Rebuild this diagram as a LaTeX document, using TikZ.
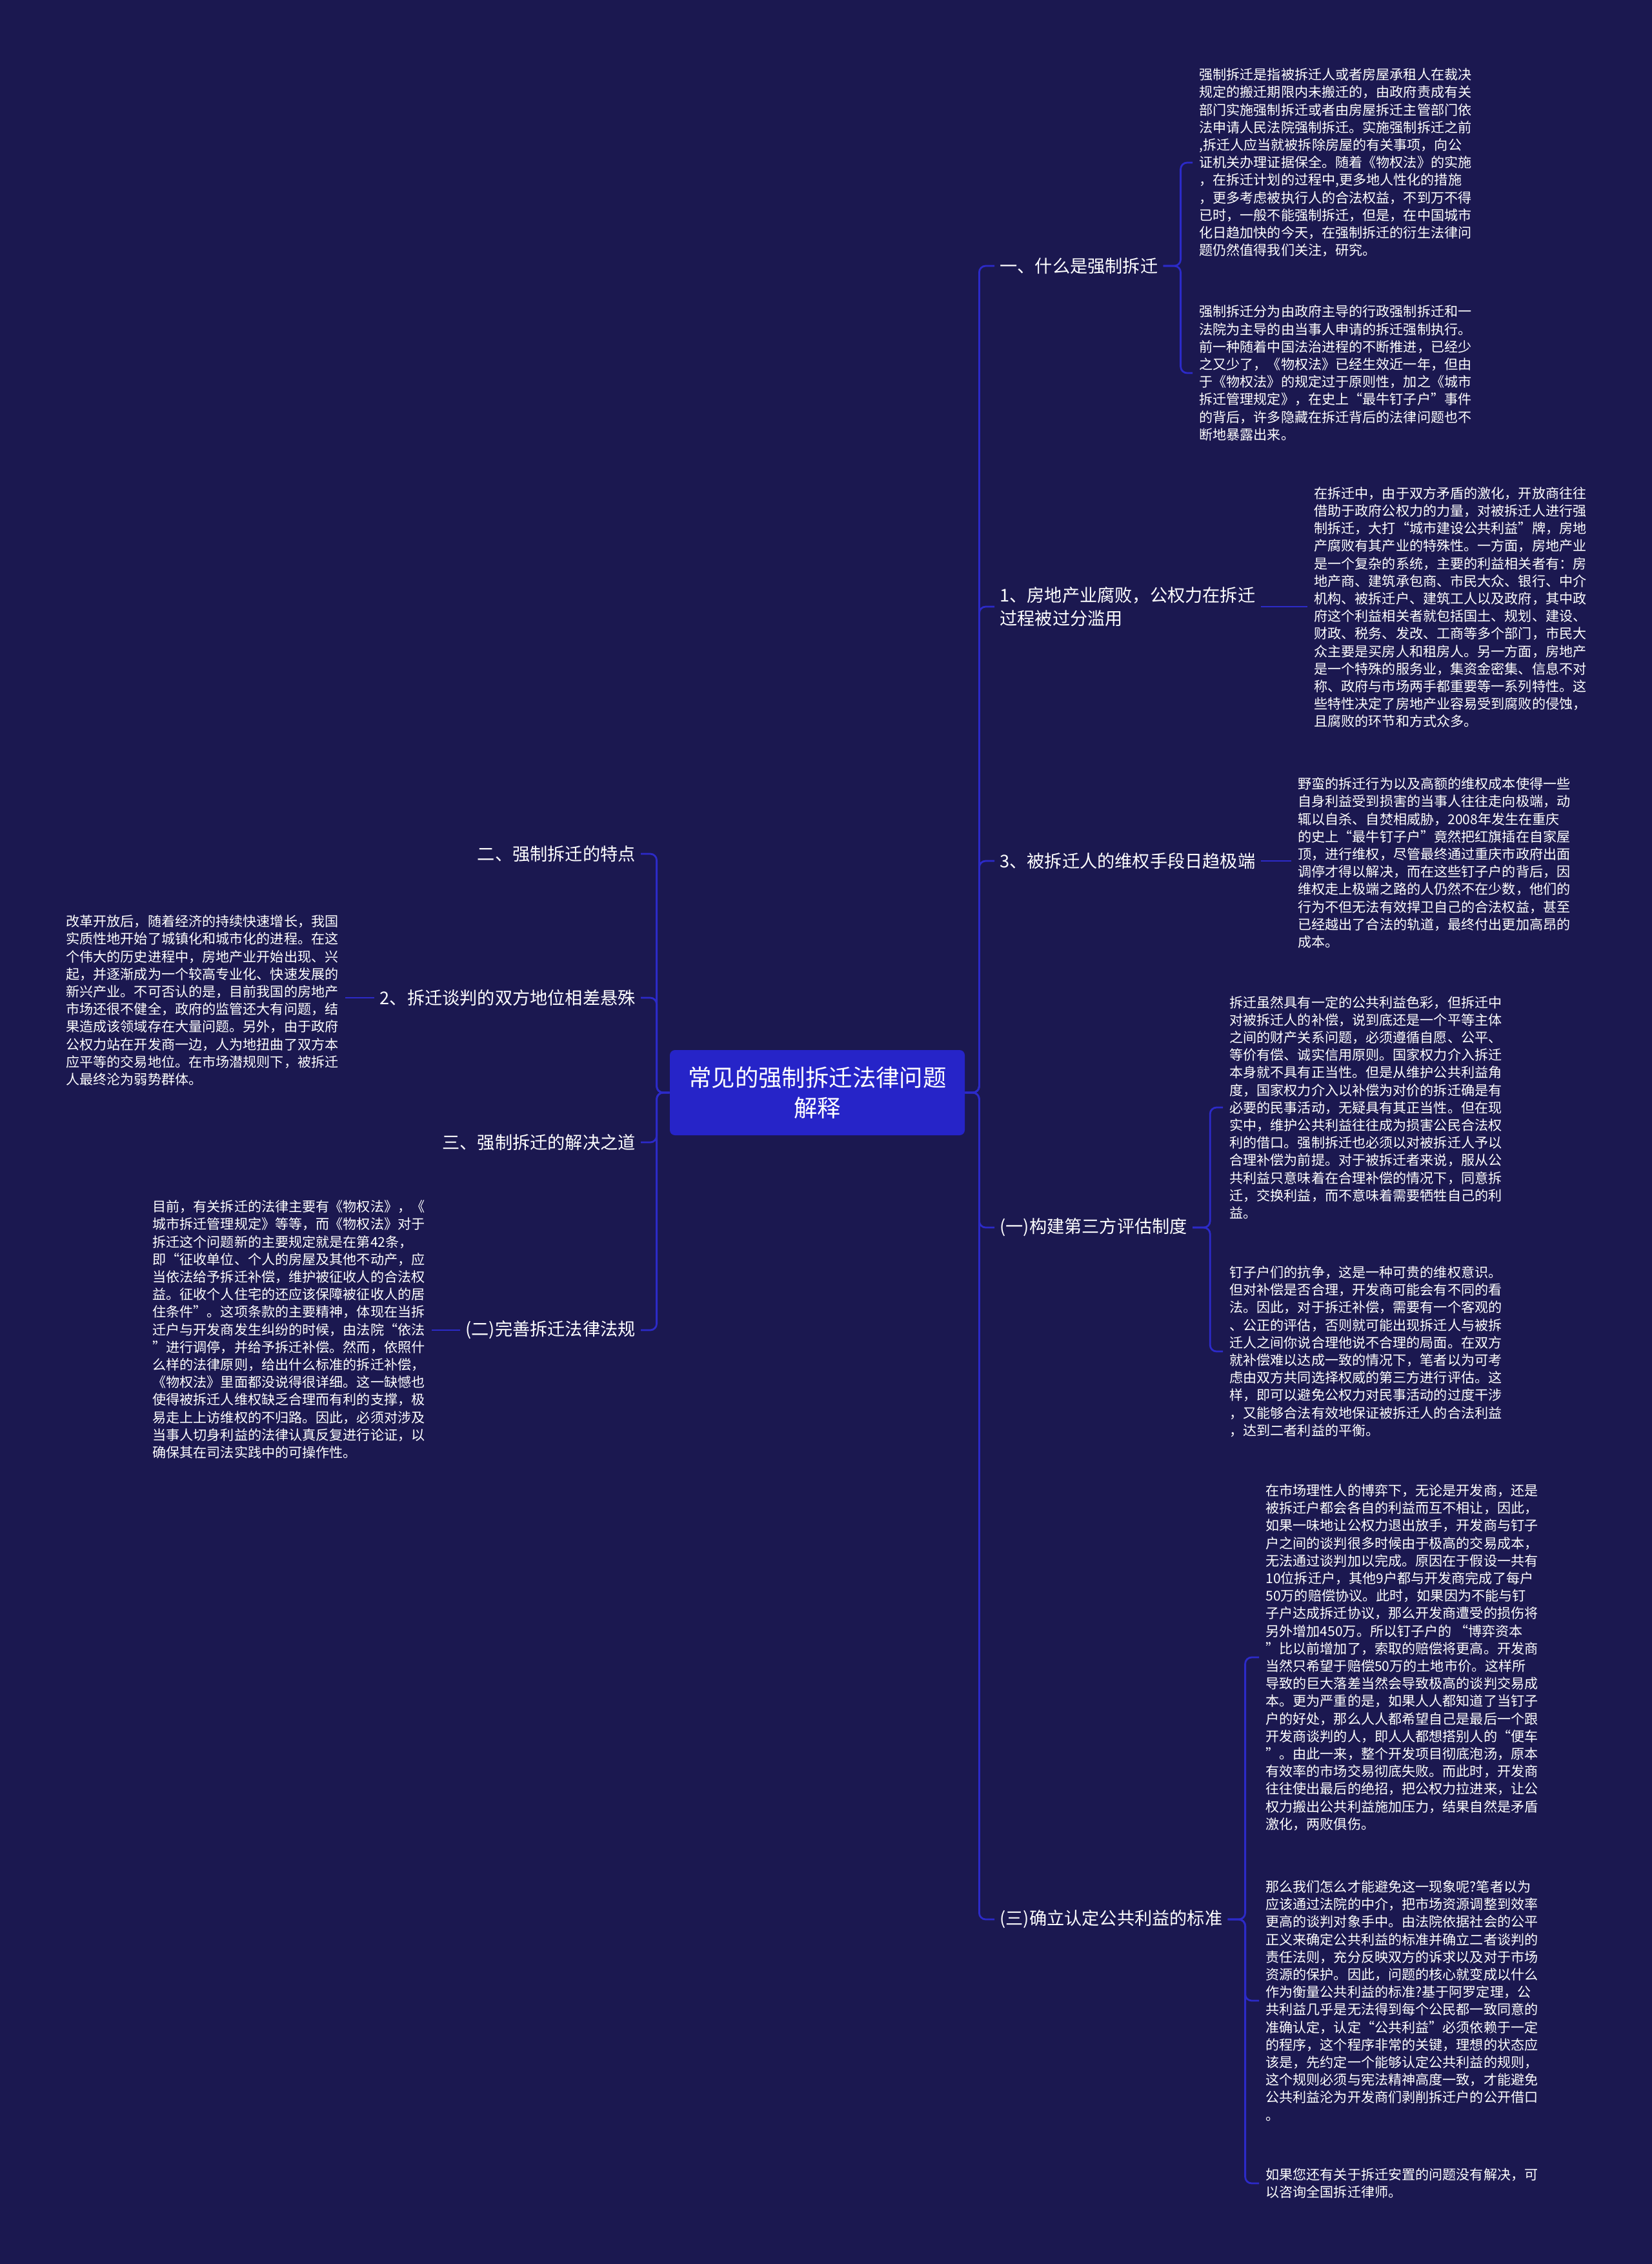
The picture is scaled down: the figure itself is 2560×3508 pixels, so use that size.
\documentclass[tikz,border=0pt]{standalone}
\usepackage{fontspec}
\setmainfont{Noto Sans CJK SC}
\definecolor{bgnavy}{RGB}{27,24,80}
\definecolor{linkblue}{RGB}{44,42,200}
\definecolor{rootblue}{RGB}{38,36,200}

\begin{document}
\begin{tikzpicture}[x=0.5pt, y=-0.5pt,
	root/.style={fill=rootblue, rounded corners=4pt, text=white, align=center, minimum width=228.5pt, minimum height=66pt, font=\fontsize{18.2pt}{23.5pt}\selectfont},
	topic/.style={text=white, inner xsep=4pt, inner ysep=2pt, align=left, font=\fontsize{13.6pt}{18pt}\selectfont},
	leaf/.style={text=white, inner xsep=5pt, inner ysep=0pt, anchor=west, align=left, font=\fontsize{10.55pt}{13.6pt}\selectfont},
	link/.style={draw=linkblue, line width=1.4pt, rounded corners=5pt}]
	\fill[bgnavy] (0,0) rectangle (2560,3508);
	\useasboundingbox (0,0) rectangle (2560,3508);
	
	\node[root] (root) at (1266.5,1693) {常见的强制拆迁法律问题\\解释};
	
	% right side
	\node[topic, anchor=west] (r1) at (1541,412) {一、什么是强制拆迁};
	\node[topic, anchor=west] (r2) at (1541,940) {1、房地产业腐败，公权力在拆迁\\过程被过分滥用};
	\node[topic, anchor=west] (r3) at (1541,1334) {3、被拆迁人的维权手段日趋极端};
	\node[topic, anchor=west] (r4) at (1541,1902) {(一)构建第三方评估制度};
	\node[topic, anchor=west] (r5) at (1541,2974) {(三)确立认定公共利益的标准};
	
	\node[leaf] (c1a) at (1848,252) {强制拆迁是指被拆迁人或者房屋承租人在裁决\\
		规定的搬迁期限内未搬迁的，由政府责成有关\\
		部门实施强制拆迁或者由房屋拆迁主管部门依\\
		法申请人民法院强制拆迁。实施强制拆迁之前\\
		,拆迁人应当就被拆除房屋的有关事项，向公\\
		证机关办理证据保全。随着《物权法》的实施\\
		，在拆迁计划的过程中,更多地人性化的措施\\
		，更多考虑被执行人的合法权益，不到万不得\\
		已时，一般不能强制拆迁，但是，在中国城市\\
		化日趋加快的今天，在强制拆迁的衍生法律问\\
		题仍然值得我们关注，研究。};
	\node[leaf] (c1b) at (1848,578) {强制拆迁分为由政府主导的行政强制拆迁和一\\
		法院为主导的由当事人申请的拆迁强制执行。\\
		前一种随着中国法治进程的不断推进，已经少\\
		之又少了，《物权法》已经生效近一年，但由\\
		于《物权法》的规定过于原则性，加之《城市\\
		拆迁管理规定》，在史上“最牛钉子户”事件\\
		的背后，许多隐藏在拆迁背后的法律问题也不\\
		断地暴露出来。};
	\node[leaf] (c2) at (2026,941) {在拆迁中，由于双方矛盾的激化，开放商往往\\
		借助于政府公权力的力量，对被拆迁人进行强\\
		制拆迁，大打“城市建设公共利益”牌，房地\\
		产腐败有其产业的特殊性。一方面，房地产业\\
		是一个复杂的系统，主要的利益相关者有：房\\
		地产商、建筑承包商、市民大众、银行、中介\\
		机构、被拆迁户、建筑工人以及政府，其中政\\
		府这个利益相关者就包括国土、规划、建设、\\
		财政、税务、发改、工商等多个部门，市民大\\
		众主要是买房人和租房人。另一方面，房地产\\
		是一个特殊的服务业，集资金密集、信息不对\\
		称、政府与市场两手都重要等一系列特性。这\\
		些特性决定了房地产业容易受到腐败的侵蚀，\\
		且腐败的环节和方式众多。};
	\node[leaf] (c3) at (2001,1337) {野蛮的拆迁行为以及高额的维权成本使得一些\\
		自身利益受到损害的当事人往往走向极端，动\\
		辄以自杀、自焚相威胁，2008年发生在重庆\\
		的史上“最牛钉子户”竟然把红旗插在自家屋\\
		顶，进行维权，尽管最终通过重庆市政府出面\\
		调停才得以解决，而在这些钉子户的背后，因\\
		维权走上极端之路的人仍然不在少数，他们的\\
		行为不但无法有效捍卫自己的合法权益，甚至\\
		已经越出了合法的轨道，最终付出更加高昂的\\
		成本。};
	\node[leaf] (c4a) at (1895,1716) {拆迁虽然具有一定的公共利益色彩，但拆迁中\\
		对被拆迁人的补偿，说到底还是一个平等主体\\
		之间的财产关系问题，必须遵循自愿、公平、\\
		等价有偿、诚实信用原则。国家权力介入拆迁\\
		本身就不具有正当性。但是从维护公共利益角\\
		度，国家权力介入以补偿为对价的拆迁确是有\\
		必要的民事活动，无疑具有其正当性。但在现\\
		实中，维护公共利益往往成为损害公民合法权\\
		利的借口。强制拆迁也必须以对被拆迁人予以\\
		合理补偿为前提。对于被拆迁者来说，服从公\\
		共利益只意味着在合理补偿的情况下，同意拆\\
		迁，交换利益，而不意味着需要牺牲自己的利\\
		益。};
	\node[leaf] (c4b) at (1895,2094) {钉子户们的抗争，这是一种可贵的维权意识。\\
		但对补偿是否合理，开发商可能会有不同的看\\
		法。因此，对于拆迁补偿，需要有一个客观的\\
		、公正的评估，否则就可能出现拆迁人与被拆\\
		迁人之间你说合理他说不合理的局面。在双方\\
		就补偿难以达成一致的情况下，笔者以为可考\\
		虑由双方共同选择权威的第三方进行评估。这\\
		样，即可以避免公权力对民事活动的过度干涉\\
		，又能够合法有效地保证被拆迁人的合法利益\\
		，达到二者利益的平衡。};
	\node[leaf] (c5a) at (1951,2568) {在市场理性人的博弈下，无论是开发商，还是\\
		被拆迁户都会各自的利益而互不相让，因此，\\
		如果一味地让公权力退出放手，开发商与钉子\\
		户之间的谈判很多时候由于极高的交易成本，\\
		无法通过谈判加以完成。原因在于假设一共有\\
		10位拆迁户，其他9户都与开发商完成了每户\\
		50万的赔偿协议。此时，如果因为不能与钉\\
		子户达成拆迁协议，那么开发商遭受的损伤将\\
		另外增加450万。所以钉子户的 “博弈资本\\
		”比以前增加了，索取的赔偿将更高。开发商\\
		当然只希望于赔偿50万的土地市价。这样所\\
		导致的巨大落差当然会导致极高的谈判交易成\\
		本。更为严重的是，如果人人都知道了当钉子\\
		户的好处，那么人人都希望自己是最后一个跟\\
		开发商谈判的人，即人人都想搭别人的“便车\\
		”。由此一来，整个开发项目彻底泡汤，原本\\
		有效率的市场交易彻底失败。而此时，开发商\\
		往往使出最后的绝招，把公权力拉进来，让公\\
		权力搬出公共利益施加压力，结果自然是矛盾\\
		激化，两败俱伤。};
	\node[leaf] (c5b) at (1951,3100) {那么我们怎么才能避免这一现象呢?笔者以为\\
		应该通过法院的中介，把市场资源调整到效率\\
		更高的谈判对象手中。由法院依据社会的公平\\
		正义来确定公共利益的标准并确立二者谈判的\\
		责任法则，充分反映双方的诉求以及对于市场\\
		资源的保护。因此，问题的核心就变成以什么\\
		作为衡量公共利益的标准?基于阿罗定理，公\\
		共利益几乎是无法得到每个公民都一致同意的\\
		准确认定，认定“公共利益”必须依赖于一定\\
		的程序，这个程序非常的关键，理想的状态应\\
		该是，先约定一个能够认定公共利益的规则，\\
		这个规则必须与宪法精神高度一致，才能避免\\
		公共利益沦为开发商们剥削拆迁户的公开借口\\
		。};
	\node[leaf] (c5c) at (1951,3383) {如果您还有关于拆迁安置的问题没有解决，可\\
		以咨询全国拆迁律师。};
	
	% left side
	\node[topic, anchor=east] (l1) at (993,1323) {二、强制拆迁的特点};
	\node[topic, anchor=east] (l2) at (993,1546) {2、拆迁谈判的双方地位相差悬殊};
	\node[topic, anchor=east] (l3) at (993,1770) {三、强制拆迁的解决之道};
	\node[topic, anchor=east] (l4) at (993,2061) {(二)完善拆迁法律法规};
	
	\node[leaf] (l2t) at (92,1550) {改革开放后，随着经济的持续快速增长，我国\\
		实质性地开始了城镇化和城市化的进程。在这\\
		个伟大的历史进程中，房地产业开始出现、兴\\
		起，并逐渐成为一个较高专业化、快速发展的\\
		新兴产业。不可否认的是，目前我国的房地产\\
		市场还很不健全，政府的监管还大有问题，结\\
		果造成该领域存在大量问题。另外，由于政府\\
		公权力站在开发商一边，人为地扭曲了双方本\\
		应平等的交易地位。在市场潜规则下，被拆迁\\
		人最终沦为弱势群体。};
	\node[leaf] (l4t) at (226,2060) {目前，有关拆迁的法律主要有《物权法》，《\\
		城市拆迁管理规定》等等，而《物权法》对于\\
		拆迁这个问题新的主要规定就是在第42条，\\
		即“征收单位、个人的房屋及其他不动产，应\\
		当依法给予拆迁补偿，维护被征收人的合法权\\
		益。征收个人住宅的还应该保障被征收人的居\\
		住条件”。这项条款的主要精神，体现在当拆\\
		迁户与开发商发生纠纷的时候，由法院“依法\\
		”进行调停，并给予拆迁补偿。然而，依照什\\
		么样的法律原则，给出什么标准的拆迁补偿，\\
		《物权法》里面都没说得很详细。这一缺憾也\\
		使得被拆迁人维权缺乏合理而有利的支撑，极\\
		易走上上访维权的不归路。因此，必须对涉及\\
		当事人切身利益的法律认真反复进行论证，以\\
		确保其在司法实践中的可操作性。};
	
	% connectors
	\foreach \t in {r1,r2,r3,r4,r5}
		\draw[link] (root.east) -- ++(11pt,0) |- (\t.west);
	\foreach \t in {l1,l2,l3,l4}
		\draw[link] (root.west) -- ++(-10pt,0) |- (\t.east);
	\draw[link] (r1.east) -- ++(13.5pt,0) |- (c1a.west);
	\draw[link] (r1.east) -- ++(13.5pt,0) |- (c1b.west);
	\draw[link] (r2.east) -- (r2.east -| c2.west);
	\draw[link] (r3.east) -- (r3.east -| c3.west);
	\draw[link] (r4.east) -- ++(13.5pt,0) |- (c4a.west);
	\draw[link] (r4.east) -- ++(13.5pt,0) |- (c4b.west);
	\foreach \t in {c5a,c5b,c5c}
		\draw[link] (r5.east) -- ++(13.5pt,0) |- (\t.west);
	\draw[link] (l2.west) -- (l2.west -| l2t.east);
	\draw[link] (l4.west) -- (l4.west -| l4t.east);
\end{tikzpicture}
\end{document}
